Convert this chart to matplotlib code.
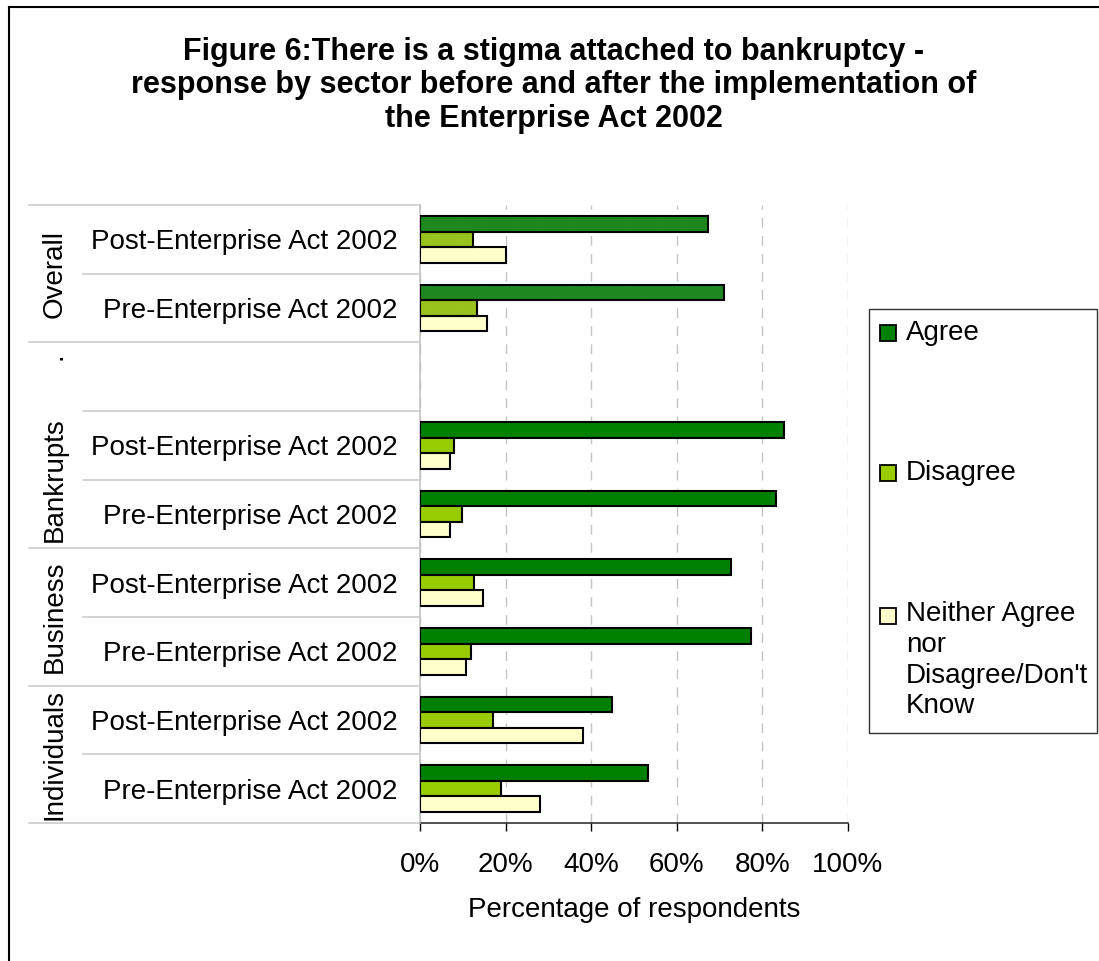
import numpy as np
import matplotlib
matplotlib.use("Agg")
import matplotlib.pyplot as plt
from matplotlib.patches import Rectangle
from matplotlib.lines import Line2D
from matplotlib import transforms

plt.rcParams['font.family'] = ['Liberation Sans', 'DejaVu Sans']

# ---- data -------------------------------------------------------------
row_labels = [
    "Post-Enterprise Act 2002", "Pre-Enterprise Act 2002",
    "",
    "Post-Enterprise Act 2002", "Pre-Enterprise Act 2002",
    "Post-Enterprise Act 2002", "Pre-Enterprise Act 2002",
    "Post-Enterprise Act 2002", "Pre-Enterprise Act 2002",
]
row_sector = ["Overall", "Overall", ".", "Bankrupts", "Bankrupts",
              "Business", "Business", "Individuals", "Individuals"]

agree = [67.4, 71.0, np.nan, 85.0, 83.2, 72.7, 77.3, 44.8, 53.2]
disagree = [12.4, 13.3, np.nan, 7.9, 9.8, 12.6, 11.9, 17.1, 19.0]
neither = [20.1, 15.7, np.nan, 7.1, 7.0, 14.8, 10.8, 38.2, 28.0]

series_names = ["Agree", "Disagree",
                "Neither Agree\nnor\nDisagree/Don't\nKnow"]
x_ticks = [0, 20, 40, 60, 80, 100]
x_ticklabels = ["0%", "20%", "40%", "60%", "80%", "100%"]

title_lines = ["Figure 6:There is a stigma attached to bankruptcy -",
               "response by sector before and after the implementation of",
               "the Enterprise Act 2002"]
x_title = "Percentage of respondents"

# ---- style ------------------------------------------------------------
colors = ["#008000", "#99CC00", "#FFFFCC"]
overall_colors = ["#2E992E", "#A8D42E", "#FFFFCC"]
overall_hatch_colors = ["#1E861E", "#97C21E", "#FFFFCC"]

W, H = 1099, 961
fig = plt.figure(figsize=(W / 100, H / 100), dpi=100)
fig.patch.set_facecolor("white")


def fx(px):
    return px / W


def fy(py):
    return 1 - py / H


ax = fig.add_axes([fx(420), fy(823), (848 - 420) / W, (823 - 205) / H])

n_rows = len(row_labels)
centers = np.arange(n_rows) + 0.5
bar_h = 0.227
offsets = [-bar_h, 0.0, bar_h]
series = [agree, disagree, neither]
is_overall = np.array([s == "Overall" for s in row_sector])

for k, vals in enumerate(series):
    vals = np.asarray(vals, dtype=float)
    y = centers + offsets[k]
    plain = ~is_overall & ~np.isnan(vals)
    ax.barh(y[plain], vals[plain], height=bar_h, color=colors[k],
            edgecolor="black", linewidth=1.5, zorder=3)
    # textured fill for the overall rows
    ax.barh(y[is_overall], vals[is_overall], height=bar_h,
            color=overall_colors[k], edgecolor=overall_hatch_colors[k],
            hatch="|||||||||||", linewidth=0, zorder=3)
    ax.barh(y[is_overall], vals[is_overall], height=bar_h, fill=False,
            edgecolor="black", linewidth=1.5, zorder=4)

ax.set_xlim(0, 100)
ax.set_ylim(n_rows, 0)
ax.set_xticks(x_ticks)
ax.set_xticklabels(x_ticklabels)
ax.set_yticks(centers)
ax.set_yticklabels(row_labels)

ax.xaxis.grid(True, linestyle=(0, (7, 6)), color="#c4c4c4", linewidth=1.0)
ax.set_axisbelow(True)

for side in ("top", "right"):
    ax.spines[side].set_visible(False)
ax.spines["left"].set_color("#c0c0c0")
ax.spines["left"].set_linewidth(1.1)
ax.spines["bottom"].set_color("#222222")
ax.spines["bottom"].set_linewidth(1.1)

ax.tick_params(axis="x", direction="out", length=5.8, width=1.0,
               color="black", labelsize=20, pad=15)
ax.tick_params(axis="y", length=0, labelsize=20, pad=16)

ax.set_xlabel(x_title, fontsize=20, labelpad=14)

# ---- category separators and sector labels ---------------------------
trans = transforms.blended_transform_factory(fig.transFigure, ax.transData)
long_bounds = {0, 2, 5, 7, 9}
for b in range(n_rows + 1):
    x0 = fx(29) if b in long_bounds else fx(83)
    fig.add_artist(Line2D([x0, fx(420)], [b, b], transform=trans,
                          color="#c8c8c8", linewidth=1.1))

sectors = []
for s in row_sector:
    if s not in sectors:
        sectors.append(s)
for s in sectors:
    idx = [i for i, r in enumerate(row_sector) if r == s]
    if s == ".":
        fig.text(fx(62), idx[0] + 0.25, s, transform=trans, rotation=90,
                 rotation_mode="anchor", ha="left", va="baseline",
                 fontsize=20)
    else:
        mid = (idx[0] + idx[-1] + 1) / 2
        fig.text(fx(62), mid, s, transform=trans, rotation=90,
                 rotation_mode="anchor", ha="center", va="baseline",
                 fontsize=20)

# ---- title ------------------------------------------------------------
for i, line in enumerate(title_lines):
    fig.text(fx(554), fy(60 + 33.5 * i), line, ha="center", va="baseline",
             fontsize=22, fontweight="bold")

# ---- legend -----------------------------------------------------------
fig.add_artist(Rectangle((fx(869), fy(733)), fx(1097) - fx(869),
                         fy(309) - fy(733), transform=fig.transFigure,
                         fill=False, edgecolor="#333333", linewidth=1.0))
legend_rows = [333, 473, 616]
for k, name in enumerate(series_names):
    yc = legend_rows[k]
    fig.add_artist(Rectangle((fx(880), fy(yc + 8)), 16 / W, 16 / H,
                             transform=fig.transFigure,
                             facecolor=colors[k], edgecolor="black",
                             linewidth=1.3))
    if "\n" in name:
        fig.text(fx(906), fy(yc - 15), name, ha="left", va="top",
                 fontsize=20, linespacing=1.24)
    else:
        fig.text(fx(906), fy(yc), name, ha="left", va="center", fontsize=20)

# ---- outer frame --------------------------------------------------------
fig.add_artist(Line2D([fx(9), fx(9)], [fy(7), 0], transform=fig.transFigure,
                      color="black", linewidth=1.5))
fig.add_artist(Line2D([fx(9), 1], [fy(7), fy(7)], transform=fig.transFigure,
                      color="black", linewidth=1.5))

fig.savefig("out.png", dpi=100)
